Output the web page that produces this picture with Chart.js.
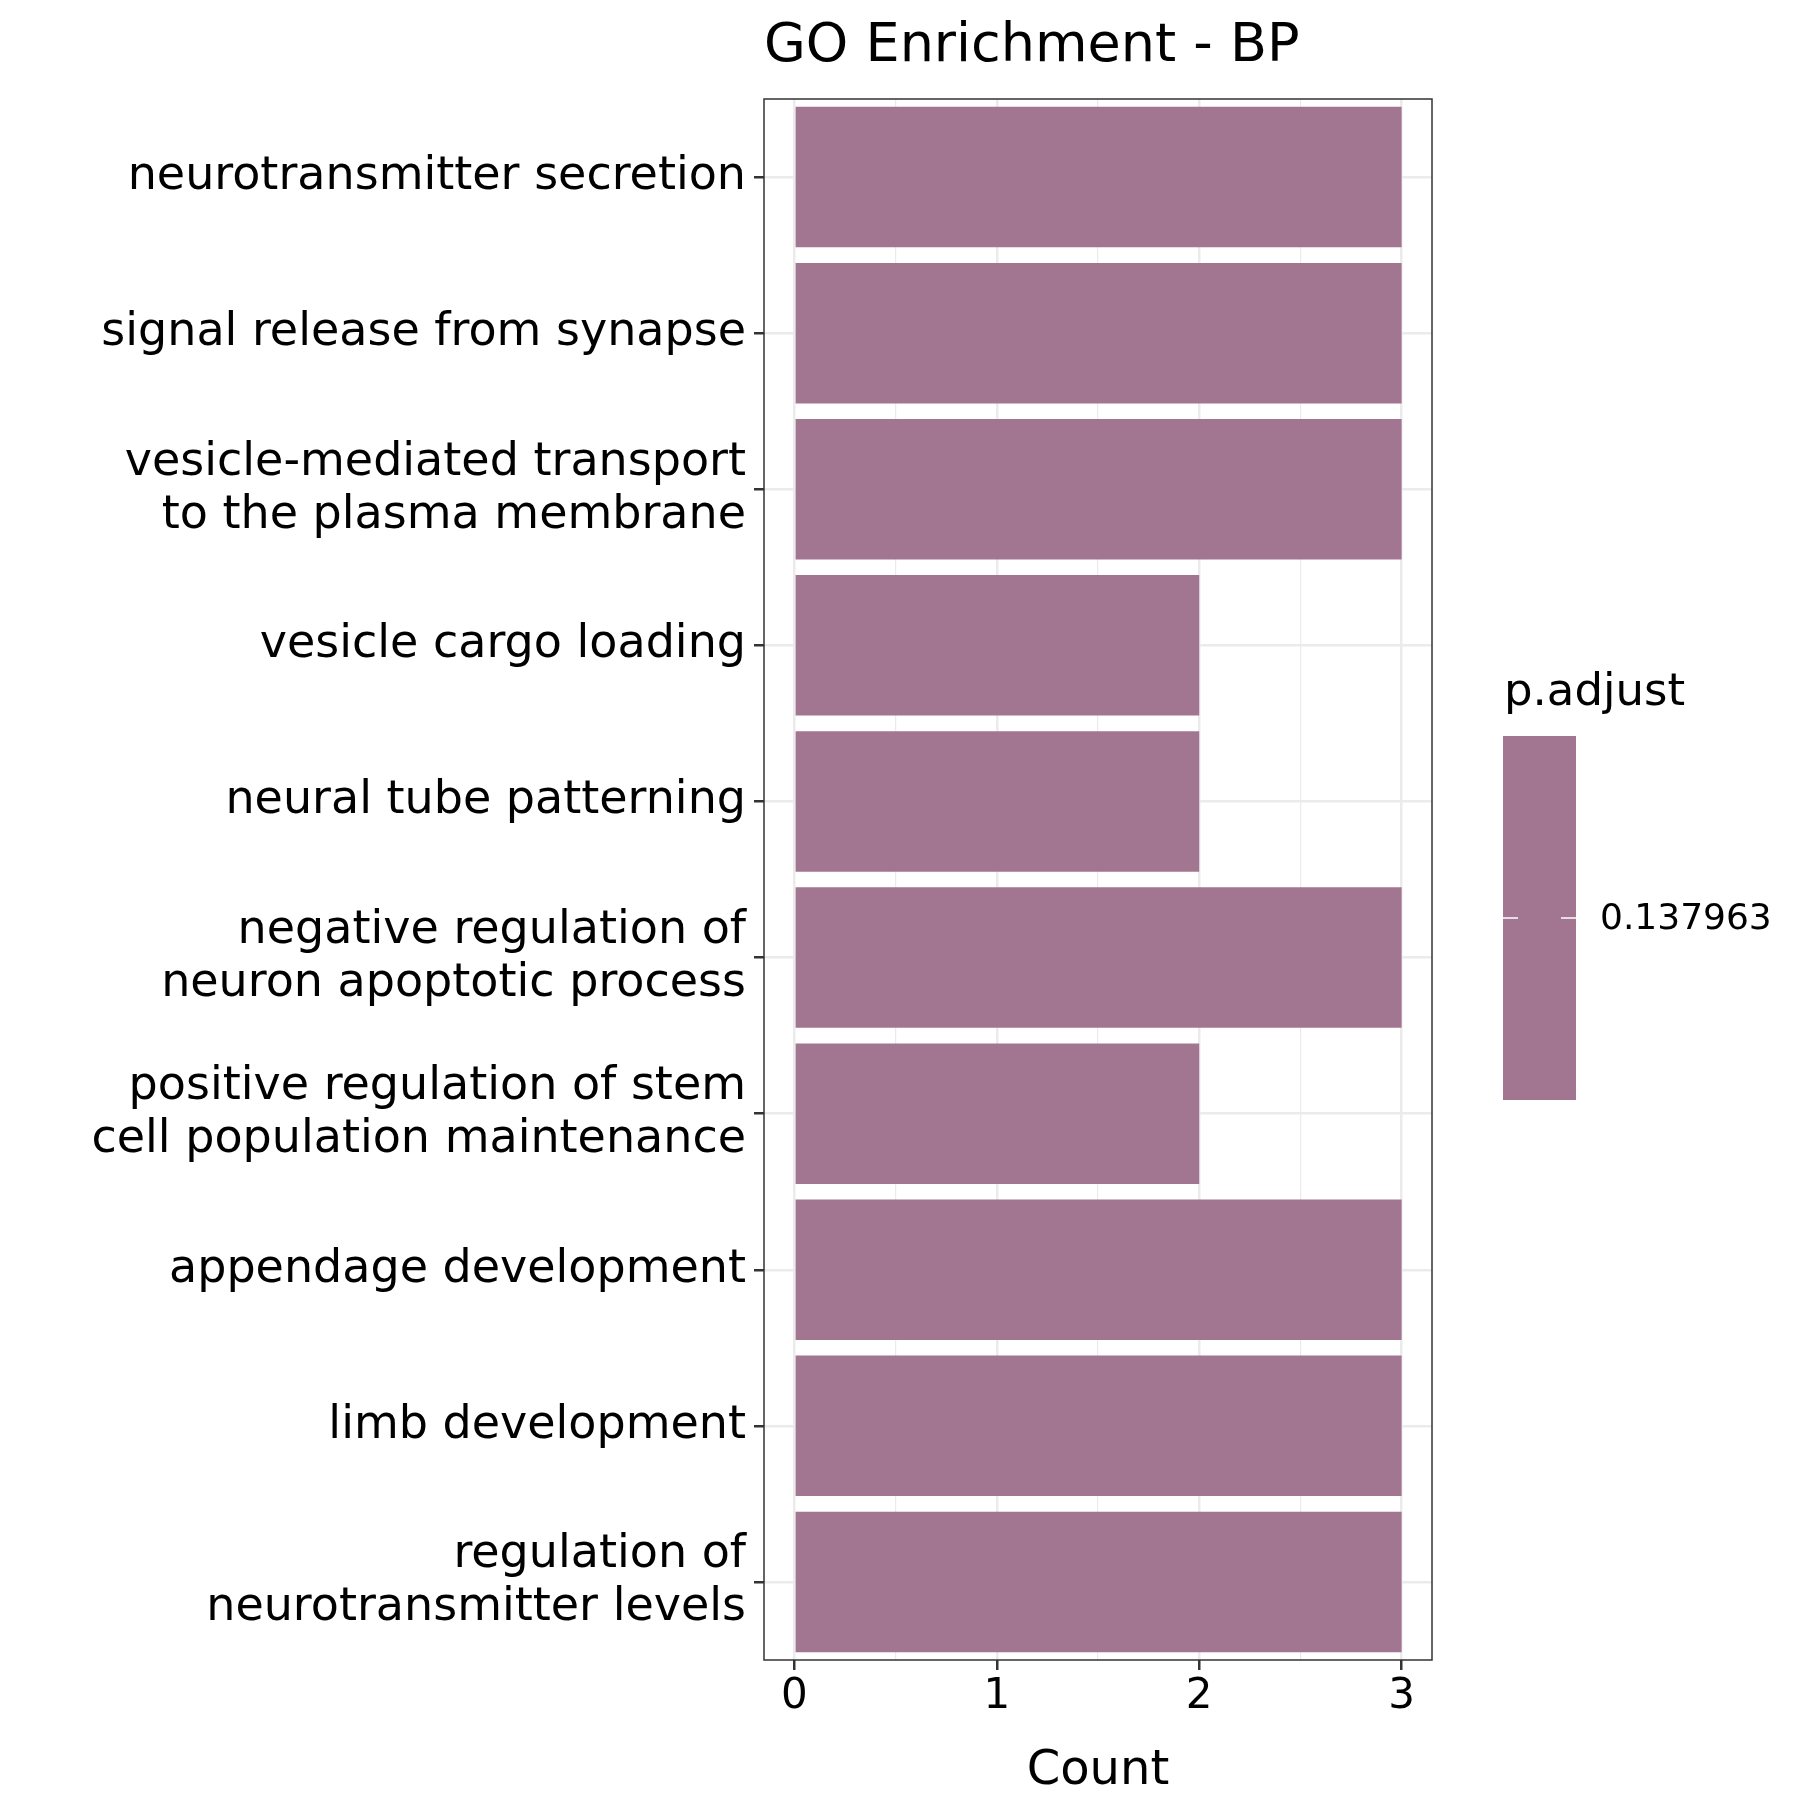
<!DOCTYPE html>
<html><head><meta charset="utf-8">
<script src="https://cdn.jsdelivr.net/npm/chart.js@4"></script>
<style>body{margin:0;background:#fff}#w{width:1800px;height:1800px}</style>
</head><body><div id="w"><canvas id="c" width="1800" height="1800"></canvas></div>
<script>
const categories = [
  ["neurotransmitter secretion"],
  ["signal release from synapse"],
  ["vesicle-mediated transport","to the plasma membrane"],
  ["vesicle cargo loading"],
  ["neural tube patterning"],
  ["negative regulation of","neuron apoptotic process"],
  ["positive regulation of stem","cell population maintenance"],
  ["appendage development"],
  ["limb development"],
  ["regulation of","neurotransmitter levels"]
];
const counts = [3,3,3,2,2,3,2,3,3,3];
const xTicks = [0,0.5,1,1.5,2,2.5,3];
const pAdjustLabel = "0.137963";
const barColor = "#A27690";
const FONT = "DejaVu Sans";

const deco = {
  id:'deco',
  afterDraw(ch){
    const c=ch.ctx, a=ch.chartArea;
    c.save();
    c.strokeStyle='#333'; c.lineWidth=1.5;
    c.strokeRect(a.left,a.top,a.right-a.left,a.bottom-a.top);
    c.fillStyle='#000'; c.font='54px "'+FONT+'"'; c.textAlign='left'; c.textBaseline='middle';
    c.fillText('GO Enrichment - BP',764,47);
    c.font='45px "'+FONT+'"';
    c.fillText('p.adjust',1504,693);
    c.fillStyle=barColor; c.fillRect(1503,736,73,364);
    c.strokeStyle='#fff'; c.lineWidth=1.5;
    c.beginPath(); c.moveTo(1503,918); c.lineTo(1518,918); c.moveTo(1561,918); c.lineTo(1576,918); c.stroke();
    c.fillStyle='#000'; c.font='36px "'+FONT+'"';
    c.fillText(pAdjustLabel,1600,920);
    c.restore();
  }
};

new Chart(document.getElementById('c'),{
  type:'bar',
  data:{labels:categories,datasets:[{data:counts,backgroundColor:barColor,barPercentage:0.9,categoryPercentage:1}]},
  options:{
    indexAxis:'y',responsive:false,animation:false,
    layout:{padding:{top:99,right:368,left:0,bottom:0}},
    plugins:{legend:{display:false},tooltip:{enabled:false}},
    scales:{
      x:{min:-0.15,max:3.15,
        afterBuildTicks(ax){ax.ticks=xTicks.map(v=>({value:v}));},
        afterFit(ax){ax.height=140;},
        ticks:{autoSkip:false,maxRotation:0,color:'#000',font:{family:FONT,size:42},padding:2,
          callback:v=>Number.isInteger(v)?String(v):''},
        grid:{color:'#EBEBEB',lineWidth:c=>Number.isInteger(c.tick&&c.tick.value)?2.5:1.2,
          drawTicks:true,tickLength:10,tickColor:c=>Number.isInteger(c.tick&&c.tick.value)?'#333':'rgba(0,0,0,0)',tickWidth:2.5},
        border:{display:false},
        title:{display:true,text:'Count',color:'#000',font:{family:FONT,size:48},padding:{top:0,bottom:0}}
      },
      y:{afterFit(ax){ax.width=764;},
        ticks:{color:'#000',font:{family:FONT,size:46,lineHeight:1.15},padding:8},
        grid:{offset:false,color:'#EBEBEB',lineWidth:2.5,tickLength:10,tickColor:'#333',tickWidth:2.5},
        border:{display:false}
      }
    }
  },
  plugins:[deco]
});
</script></body></html>
